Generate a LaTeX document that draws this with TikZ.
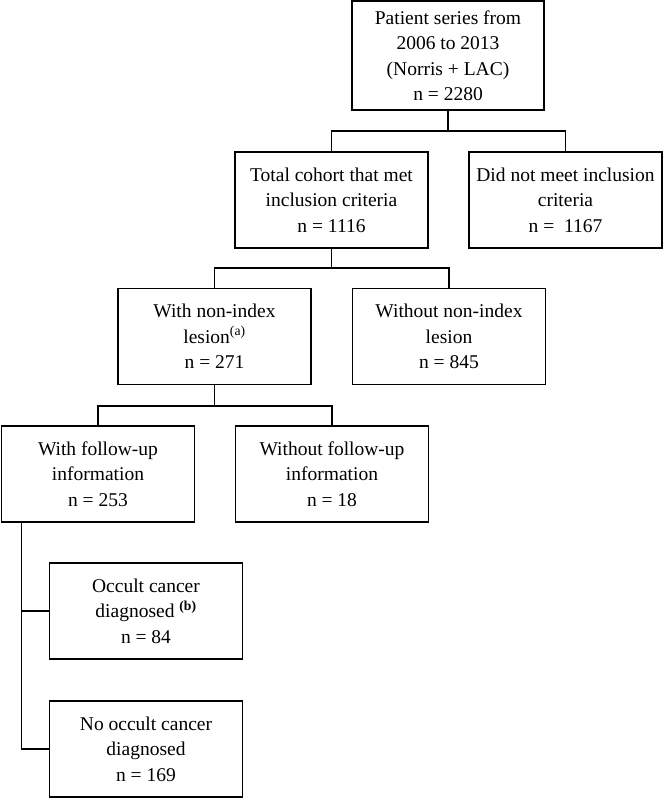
\documentclass[tikz,border=0pt]{standalone}
\usepackage{fontspec}
\setmainfont{Liberation Serif}
\begin{document}
\begin{tikzpicture}[x=1pt,y=-1pt,
  box/.style={draw=black, line width=1.8pt, minimum width=193pt, minimum height=96pt,
    inner sep=0pt, outer sep=0pt, align=center,
    font=\fontsize{19.5}{25.5}\selectfont},
  link/.style={draw=black, line width=1.8pt}]
\useasboundingbox (0,0) rectangle (663,798);
\node[box, minimum width=192pt, minimum height=109pt] (top) at (448,55.5)
  {Patient series from\\2006 to 2013\\(Norris + LAC)\\n = 2280};
\node[box] (tc) at (331.5,200) {Total cohort that met\\inclusion criteria\\n = 1116};
\node[box] (dn) at (565.5,200) {Did not meet inclusion\\criteria\\n =\ \ 1167};
\node[box] (wn) at (214.5,336.5) {With non-index\\lesion\textsuperscript{(a)}\\n = 271};
\node[box] (wo) at (449,336.5) {Without non-index\\lesion\\n = 845};
\node[box] (wf) at (98,474) {With follow-up\\information\\n = 253};
\node[box] (wof) at (332,474) {Without follow-up\\information\\n = 18};
\node[box] (oc) at (146,611) {Occult cancer\\diagnosed \textsuperscript{\bfseries (b)}\\n = 84};
\node[box] (no) at (146,749) {No occult cancer\\diagnosed\\n = 169};
% connectors
\draw[link] (top.south) -- ++(0,21) coordinate (j1);
\draw[link] (j1) -| (tc.north);
\draw[link] (j1) -| (dn.north);
\draw[link] (tc.south) -- ++(0,20) coordinate (j2);
\draw[link] (j2) -| (wn.north);
\draw[link] (j2) -| (wo.north);
\draw[link] (wn.south) -- ++(0,21.5) coordinate (j3);
\draw[link] (j3) -| (wf.north);
\draw[link] (j3) -| (wof.north);
\coordinate (s) at ([xshift=20pt]wf.south west);
\draw[link] (s) |- (oc.west);
\draw[link] (s) |- (no.west);
\end{tikzpicture}
\end{document}
